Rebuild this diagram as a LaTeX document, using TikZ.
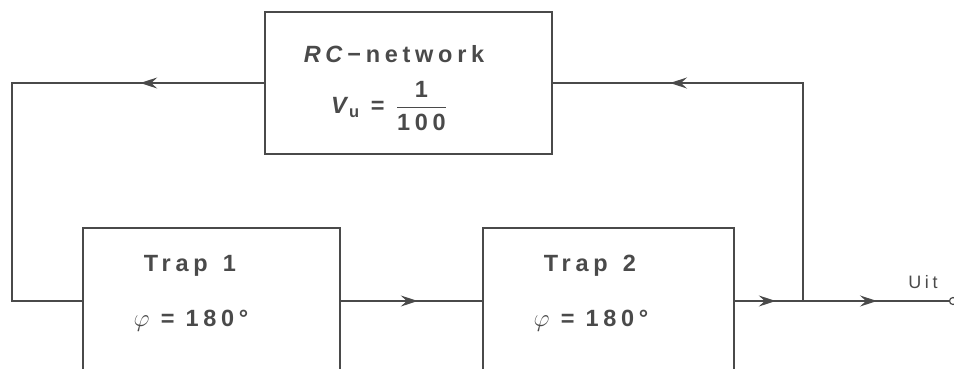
\documentclass[tikz,border=0pt]{standalone}
\usepackage{amsmath}
\usepackage{fontspec}
\usetikzlibrary{arrows.meta,decorations.markings}
\newfontfamily\labfont{Liberation Sans}[LetterSpace=20]
\definecolor{ink}{HTML}{4a4a4a}
\tikzset{
  blk/.style={draw=ink, line width=1.6pt, rectangle, inner sep=0pt},
  wire/.style={draw=ink, line width=1.4pt, postaction={decorate}},
  lab/.style={text=ink, font=\labfont\bfseries\fontsize{23.5}{28}\selectfont, inner sep=0pt},
  arrowat/.style={decoration={markings, mark=at position #1 with {\arrow{Stealth[length=17pt,width=11pt,inset=6pt]}}}},
}
\begin{document}
\begin{tikzpicture}[x=1pt,y=-1pt]
\useasboundingbox (0,0) rectangle (954,368);
\clip (0,0) rectangle (954,368);
\node[blk, minimum width=287pt, minimum height=142pt] (rc) at (408.5,83) {};
\node[blk, minimum width=257pt, minimum height=146pt] (t1) at (211.5,301) {};
\node[blk, minimum width=251pt, minimum height=146pt] (t2) at (608.5,301) {};
\node[lab] (rct) at (394,54) {\textit{RC}−network};
\node[lab] (vu) at (389,106) {\textit{V}\kern-4pt$_{\text{u}}$ = $\dfrac{\text{1}}{\text{100}}$};
\node[lab] (t1a) at (190,266) {Trap\hspace{4pt} 1};
\node[lab] (t1b) at (191,321) {{\mdseries$\varphi$} = 180°};
\node[lab] (t2a) at (590,266) {Trap\hspace{4pt} 2};
\node[lab] (t2b) at (591,321) {{\mdseries$\varphi$} = 180°};
\node[lab, font=\labfont\fontsize{18}{21}\selectfont] (uit) at (923,282) {Uit};
\coordinate (cl) at (12,83);
\coordinate (j) at (803,301);
\node[circle, draw=ink, line width=1.2pt, minimum size=7pt, inner sep=0pt] (out) at (953,301) {};
\draw[wire, arrowat=124pt] (rc.west) -- (cl) |- (t1.west);
\draw[wire, arrowat=351pt] (j) |- (rc.east);
\draw[wire, arrowat=77pt] (t1.east) -- (t2.west);
\draw[wire, arrowat=41pt] (t2.east) -- (j);
\draw[wire, arrowat=74pt] (j) -- (out.west);
\end{tikzpicture}
\end{document}
